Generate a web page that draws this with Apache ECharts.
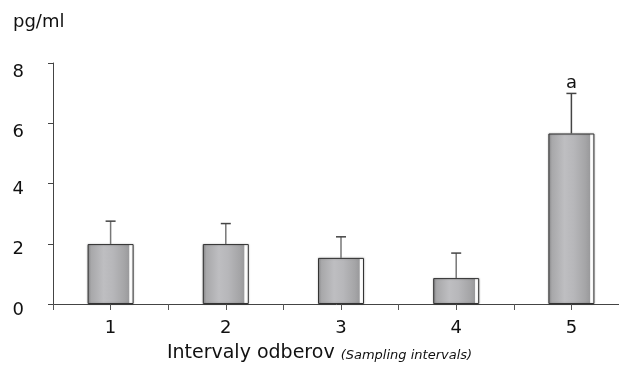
<!DOCTYPE html>
<html>
<head>
<meta charset="utf-8">
<script src="https://cdn.jsdelivr.net/npm/echarts@6/dist/echarts.min.js"></script>
<style>html,body{margin:0;padding:0;background:#fff}#c{width:619px;height:365px}</style>
</head>
<body>
<div id="c"></div>
<script>
const categories = [1, 2, 3, 4, 5];
const means = [1.99, 1.99, 1.53, 0.86, 5.66];
const errorTops = [2.75, 2.67, 2.23, 1.69, 6.99];
const marks = ['', '', '', '', 'a'];
const yTicks = [0, 2, 4, 6, 8];

const FONT = 'DejaVu Sans';
const chart = echarts.init(document.getElementById('c'), null, {renderer: 'canvas'});

const barFill = new echarts.graphic.LinearGradient(0, 0, 1, 0, [
  {offset: 0, color: '#8e8e90'},
  {offset: 0.08, color: '#a8a8aa'},
  {offset: 0.35, color: '#bebec1'},
  {offset: 0.55, color: '#b7b7ba'},
  {offset: 0.8, color: '#a5a5a7'},
  {offset: 0.9, color: '#9a9a9c'},
  {offset: 0.905, color: '#d8d8d8'},
  {offset: 0.925, color: '#ffffff'},
  {offset: 1, color: '#ffffff'}
]);

const option = {
  animation: false,
  backgroundColor: '#fff',
  textStyle: {fontFamily: FONT},
  graphic: [{
    type: 'text', left: 13, top: 13,
    style: {text: 'pg/ml', font: '18px "DejaVu Sans"', fill: '#111'}
  }],
  grid: {left: 53, right: -10, top: 63, bottom: 61, containLabel: false, outerBoundsMode: 'none'},
  xAxis: {
    type: 'value', min: 0.5, max: 5.5, interval: 0.5,
    axisLine: {show: true, lineStyle: {color: '#444', width: 1}},
    axisTick: {show: true, length: 6, lineStyle: {color: '#555', width: 1}},
    splitLine: {show: false},
    axisLabel: {
      margin: 15, fontSize: 18, color: '#111', fontFamily: FONT,
      formatter: v => categories.indexOf(v) >= 0 ? String(v) : ''
    },
    name: 'Intervaly odberov {i|(Sampling intervals)}',
    nameLocation: 'middle', nameGap: 40,
    nameTextStyle: {
      fontSize: 19, color: '#111', fontFamily: FONT, padding: [0, 43, 0, 0],
      rich: {i: {fontSize: 13, fontStyle: 'italic', color: '#111', fontFamily: FONT, padding: [4, 0, 0, 0]}}
    }
  },
  yAxis: {
    type: 'value', min: 0, max: 8, interval: 2,
    axisLine: {show: true, lineStyle: {color: '#444', width: 1}},
    axisTick: {show: true, length: 5, lineStyle: {color: '#444', width: 1}},
    splitLine: {show: false},
    axisLabel: {
      margin: 29, fontSize: 18, color: '#111', fontFamily: FONT,
      verticalAlign: 'top',
      formatter: v => yTicks.indexOf(v) >= 0 ? (v >= 6 ? '{hi|' + v + '}' : '{lo|' + v + '}') : '',
      rich: {
        hi: {fontSize: 18, color: '#111', fontFamily: FONT, lineHeight: 18},
        lo: {fontSize: 18, color: '#111', fontFamily: FONT, lineHeight: 12}
      }
    }
  },
  series: [
    {
      type: 'bar',
      barWidth: 46,
      data: categories.map((c, i) => [c, means[i]]),
      itemStyle: {color: barFill, borderColor: '#333', borderWidth: 1, shadowColor: 'rgba(0,0,0,0.25)', shadowBlur: 2},
      z: 2
    },
    {
      type: 'custom',
      z: 3,
      data: categories.map((c, i) => [c, means[i], errorTops[i], i]),
      renderItem: function (params, api) {
        const x = api.value(0);
        const p0 = api.coord([x, api.value(1)]);
        const p1 = api.coord([x, api.value(2)]);
        const idx = api.value(3);
        const children = [
          {type: 'line', shape: {x1: p0[0], y1: p0[1], x2: p1[0], y2: p1[1]},
           style: {stroke: idx === 4 ? '#444' : '#777', lineWidth: 1.5}},
          {type: 'line', shape: {x1: p1[0] - 5, y1: p1[1], x2: p1[0] + 5, y2: p1[1]},
           style: {stroke: '#444', lineWidth: 1.5}}
        ];
        if (marks[idx]) {
          children.push({type: 'text', x: p1[0], y: p1[1] - 1,
            style: {text: marks[idx], font: '18px "DejaVu Sans"', fill: '#111', align: 'center', verticalAlign: 'bottom'}});
        }
        return {type: 'group', children: children};
      }
    }
  ]
};
chart.setOption(option);
</script>
</body>
</html>
